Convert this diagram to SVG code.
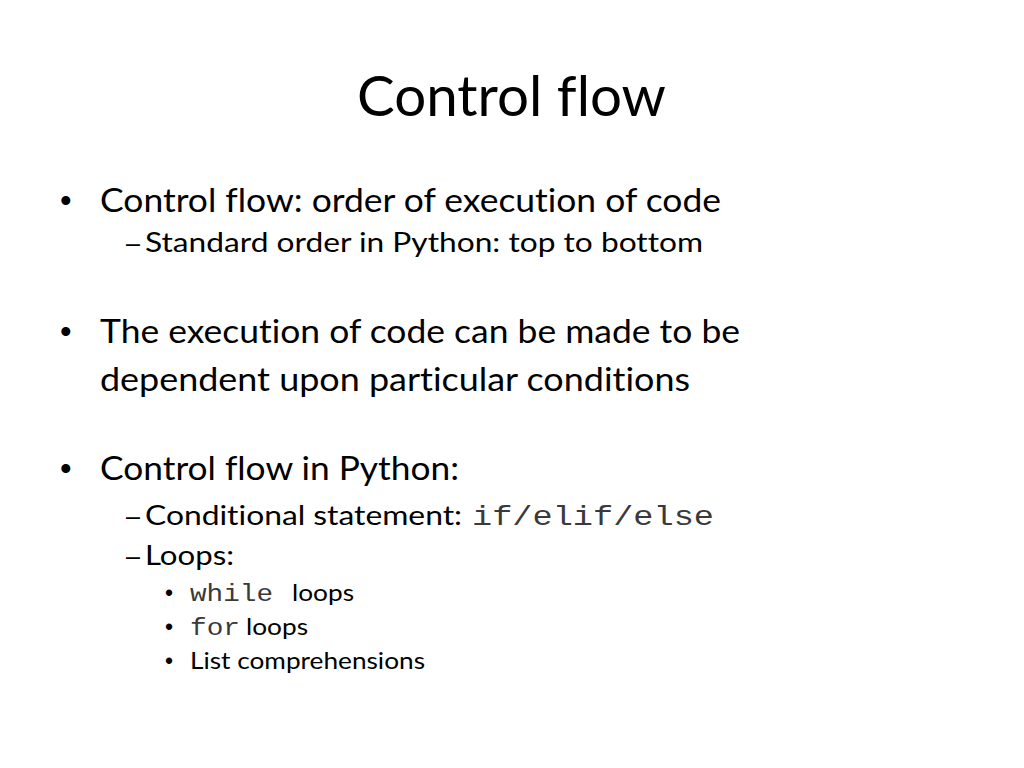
<svg xmlns="http://www.w3.org/2000/svg" width="1024" height="768" viewBox="0 0 1024 768">
<style>
text{font-family:"Lato","Open Sans","Liberation Sans",sans-serif;fill:#000;font-variant-ligatures:none}
.t{font-size:56px}
.b1{font-size:33px}
.b2{font-size:27px}
.b3{font-size:23px}
.d{font-family:"Liberation Sans",sans-serif}
.m{font-family:"Liberation Mono","DejaVu Sans Mono",monospace;fill:#3a3a3a}
</style>
<rect width="1024" height="768" fill="#fff"/>
<text class="t" x="357" y="116" textLength="309" lengthAdjust="spacingAndGlyphs">Control flow</text>
<g id="bullet1">
<text class="b1 d" x="60" y="212">•</text>
<text class="b1" x="100" y="212" textLength="621" lengthAdjust="spacingAndGlyphs">Control flow: order of execution of code</text>
<text class="b2 d" x="126" y="252" textLength="14" lengthAdjust="spacingAndGlyphs">–</text>
<text class="b2" x="145" y="252" textLength="558" lengthAdjust="spacingAndGlyphs">Standard order in Python: top to bottom</text>
</g>
<g id="bullet2">
<text class="b1 d" x="60" y="343">•</text>
<text class="b1" x="100" y="343" textLength="640" lengthAdjust="spacingAndGlyphs">The execution of code can be made to be</text>
<text class="b1" x="100" y="391" textLength="590" lengthAdjust="spacingAndGlyphs">dependent upon particular conditions</text>
</g>
<g id="bullet3">
<text class="b1 d" x="60" y="480">•</text>
<text class="b1" x="100" y="480" textLength="359" lengthAdjust="spacingAndGlyphs">Control flow in Python:</text>
<text class="b2 d" x="126" y="525" textLength="14" lengthAdjust="spacingAndGlyphs">–</text>
<text class="b2" x="145" y="525" textLength="317" lengthAdjust="spacingAndGlyphs">Conditional statement:</text>
<text class="b2 m" x="472" y="525" textLength="242" lengthAdjust="spacingAndGlyphs">if/elif/else</text>
<text class="b2 d" x="126" y="565" textLength="14" lengthAdjust="spacingAndGlyphs">–</text>
<text class="b2" x="145" y="565" textLength="89" lengthAdjust="spacingAndGlyphs">Loops:</text>
<text class="b3 d" x="165" y="601">•</text>
<text class="b3 m" x="190" y="601" textLength="83" lengthAdjust="spacingAndGlyphs">while</text>
<text class="b3" x="292" y="601" textLength="62" lengthAdjust="spacingAndGlyphs">loops</text>
<text class="b3 d" x="165" y="635">•</text>
<text class="b3 m" x="190" y="635" textLength="50" lengthAdjust="spacingAndGlyphs">for</text>
<text class="b3" x="246" y="635" textLength="62" lengthAdjust="spacingAndGlyphs">loops</text>
<text class="b3 d" x="165" y="669">•</text>
<text class="b3" x="190" y="669" textLength="235" lengthAdjust="spacingAndGlyphs">List comprehensions</text>
</g>
</svg>
